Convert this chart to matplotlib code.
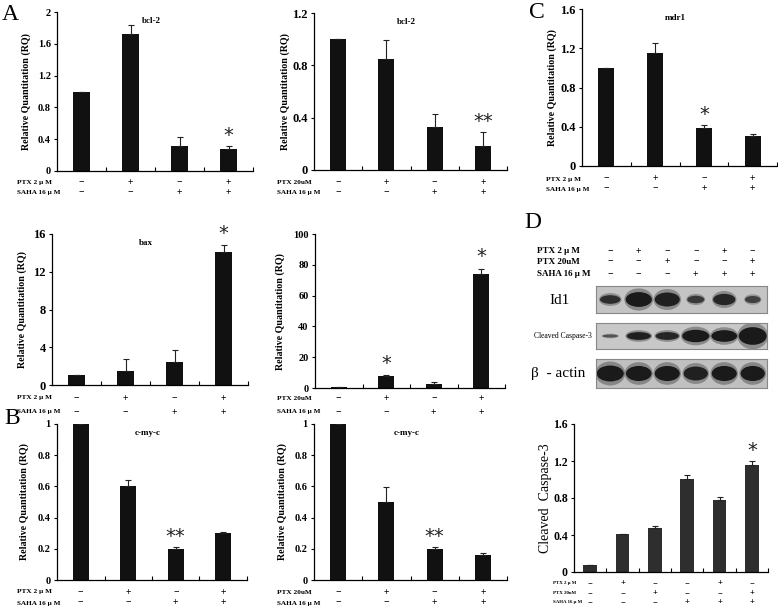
import matplotlib
matplotlib.use("Agg")
import matplotlib.pyplot as plt
from matplotlib.patches import Ellipse
import matplotlib.transforms as mtransforms

W, H = 778, 609
SERIF = ["Liberation Serif", "DejaVu Serif"]
plt.rcParams["font.family"] = SERIF
plt.rcParams["axes.linewidth"] = 0.9

# ---- data ----
bcl2_ptx2 = [0.99, 1.72, 0.32, 0.28]
bcl2_ptx2_err = [0.0, 0.12, 0.11, 0.04]
bcl2_ptx20 = [1.0, 0.845, 0.33, 0.18]
bcl2_ptx20_err = [0.0, 0.15, 0.10, 0.11]
mdr1 = [1.0, 1.155, 0.385, 0.305]
mdr1_err = [0.0, 0.10, 0.03, 0.02]
bax_ptx2 = [1.02, 1.52, 2.4, 14.05]
bax_ptx2_err = [0.0, 1.2, 1.35, 0.8]
bax_ptx20 = [0.4, 8.0, 2.5, 74.0]
bax_ptx20_err = [0.0, 0.5, 1.2, 3.5]
myc_ptx2 = [1.0, 0.60, 0.197, 0.30]
myc_ptx2_err = [0.0, 0.038, 0.017, 0.01]
myc_ptx20 = [1.0, 0.498, 0.199, 0.16]
myc_ptx20_err = [0.0, 0.10, 0.011, 0.011]
casp3 = [0.08, 0.41, 0.48, 1.01, 0.78, 1.16]
casp3_err = [0.0, 0.005, 0.02, 0.04, 0.03, 0.04]

ptx_row = ["−", "+", "−", "+"]
saha_row = ["−", "−", "+", "+"]
d_ptx2 = ["−", "+", "−", "−", "+", "−"]
d_ptx20 = ["−", "−", "+", "−", "−", "+"]
d_saha = ["−", "−", "−", "+", "+", "+"]

# blot bands per lane: (width, thickness, darkness)
id1_w = [0.72, 0.92, 0.88, 0.6, 0.78, 0.55]
id1_h = [0.32, 0.55, 0.52, 0.28, 0.42, 0.26]
id1_d = [0.85, 1.0, 0.95, 0.75, 0.9, 0.7]
casp_w = [0.55, 0.85, 0.82, 0.95, 0.9, 0.98]
casp_h = [0.12, 0.3, 0.3, 0.48, 0.45, 0.68]
casp_d = [0.55, 0.95, 0.9, 1.0, 1.0, 1.0]
actin_w = [0.95, 0.9, 0.88, 0.85, 0.88, 0.85]
actin_h = [0.55, 0.52, 0.52, 0.48, 0.52, 0.52]
actin_d = [1.0, 1.0, 1.0, 0.95, 1.0, 1.0]

fig = plt.figure(figsize=(W / 100, H / 100), dpi=100)
stars_txt = {}


def px_axes(x0, y0, x1, y1):
    return fig.add_axes([x0 / W, 1 - y1 / H, (x1 - x0) / W, (y1 - y0) / H])


def ftext(x, y, s, **kw):
    return fig.text(x / W, 1 - y / H, s, **kw)


def star(i, y, s="*"):
    stars_txt[(i, y)] = s
    return (i, y)


def bar_panel(box, vals, errs, ymax, yticks, ylabels, title, stars, rows,
              row_names, row_x, row_y, color="#111111", width=0.33,
              ylabel="Relative Quantitation (RQ)", ylab_x=None, ylab_kw=None,
              tick_fs=7.5, name_fs=5.2, sign_fs=7):
    x0, y0, x1, y1 = box
    ax = px_axes(x0, y0, x1, y1)
    n = len(vals)
    xs = [i + 0.5 for i in range(n)]
    ax.bar(xs, vals, width=width, color=color, zorder=2)
    ax.errorbar(xs, vals, yerr=[[0] * n, errs], fmt="none", ecolor="#222",
                elinewidth=0.8, capsize=2.5, capthick=0.8, zorder=3)
    ax.set_xlim(0, n)
    ax.set_ylim(0, ymax)
    for s in ("top", "right"):
        ax.spines[s].set_visible(False)
    ax.set_xticks(range(1, n + 1))
    ax.set_xticklabels([])
    ax.tick_params(axis="x", direction="in", length=3, width=0.8)
    ax.set_yticks(yticks)
    ax.set_yticklabels(ylabels, fontsize=tick_fs, fontweight="bold")
    ax.tick_params(axis="y", direction="out", length=2.5, width=0.8, pad=2)
    if title:
        ax.text(0.48, 0.97, title, transform=ax.transAxes, ha="center",
                va="top", fontsize=6.5, fontweight="bold")
    for i, sy in stars:
        ax.text(xs[i], sy, stars_txt[(i, sy)], ha="center", va="bottom",
                fontsize=14, family="DejaVu Sans", color="#222")
    kw = ylab_kw if ylab_kw else dict(fontsize=7.2, fontweight="bold")
    ftext(ylab_x, (y0 + y1) / 2, ylabel, rotation=90, ha="center",
          va="center", **kw)
    # treatment table under the axis
    tr = mtransforms.blended_transform_factory(ax.transData, fig.transFigure)
    for name, row, ry in zip(row_names, rows, row_y):
        ftext(row_x, ry, name, ha="left", va="center", fontsize=name_fs,
              fontweight="bold")
        for xi, s in zip(xs, row):
            ax.text(xi, 1 - ry / H, s, transform=tr, ha="center",
                    va="center", fontsize=sign_fs, fontweight="bold")
    return ax


# ---- panel A ----
ftext(10, 14, "A", fontsize=17, ha="center", va="center")
bar_panel((57, 12, 253, 171), bcl2_ptx2, bcl2_ptx2_err, 2.0,
          [0, 0.4, 0.8, 1.2, 1.6, 2.0], ["0", "0.4", "0.8", "1.2", "1.6", "2"],
          "bcl-2", [star(3, 0.33)], [ptx_row, saha_row],
          ["PTX 2 μ M", "SAHA 16 μ M"], 17, [182, 193], ylab_x=26)

bar_panel((314, 13, 507, 170), bcl2_ptx20, bcl2_ptx20_err, 1.2,
          [0, 0.4, 0.8, 1.2], ["0", "0.4", "0.8", "1.2"],
          "bcl-2", [star(3, 0.30, "**")], [ptx_row, saha_row],
          ["PTX 20uM", "SAHA 16 μ M"], 277, [182, 193], ylab_x=285,
          tick_fs=9)

bar_panel((52, 234, 248, 385), bax_ptx2, bax_ptx2_err, 16,
          [0, 4, 8, 12, 16], ["0", "4", "8", "12", "16"],
          "bax", [star(3, 15.0)], [ptx_row, saha_row],
          ["PTX 2 μ M", "SAHA 16 μ M"], 17, [398, 412], ylab_x=22, tick_fs=9)

bar_panel((315, 234, 505, 388), bax_ptx20, bax_ptx20_err, 100,
          [0, 20, 40, 60, 80, 100], ["0", "20", "40", "60", "80", "100"],
          None, [star(1, 9.5), star(3, 79.0)], [ptx_row, saha_row],
          ["PTX 20uM", "SAHA 16 μ M"], 277, [398, 412], ylab_x=280)

# ---- panel B ----
ftext(12, 418, "B", fontsize=17, ha="center", va="center")
bar_panel((57, 424, 247, 580), myc_ptx2, myc_ptx2_err, 1.0,
          [0, 0.2, 0.4, 0.6, 0.8, 1.0], ["0", "0.2", "0.4", "0.6", "0.8", "1"],
          "c-my-c", [star(2, 0.215, "**")], [ptx_row, saha_row],
          ["PTX 2 μ M", "SAHA 16 μ M"], 17, [592, 603], ylab_x=24)

bar_panel((314, 424, 507, 580), myc_ptx20, myc_ptx20_err, 1.0,
          [0, 0.2, 0.4, 0.6, 0.8, 1.0], ["0", "0.2", "0.4", "0.6", "0.8", "1"],
          "c-my-c", [star(2, 0.215, "**")], [ptx_row, saha_row],
          ["PTX 20uM", "SAHA 16 μ M"], 277, [592, 603], ylab_x=282)

# ---- panel C ----
ftext(537, 12, "C", fontsize=17, ha="center", va="center")
bar_panel((582, 9, 777, 166), mdr1, mdr1_err, 1.6,
          [0, 0.4, 0.8, 1.2, 1.6], ["0", "0.4", "0.8", "1.2", "1.6"],
          "mdr1", [star(2, 0.43)], [ptx_row, saha_row],
          ["PTX 2 μ M", "SAHA 16 μ M"], 546, [179, 189], ylab_x=552,
          tick_fs=9)

# ---- panel D: blots ----
ftext(533, 222, "D", fontsize=17, ha="center", va="center")
lane_x = [i + 0.5 for i in range(6)]
blot_x0, blot_x1 = 596, 767
for name, row, ry in zip(["PTX 2 μ M", "PTX 20uM", "SAHA 16 μ M"],
                         [d_ptx2, d_ptx20, d_saha], [251, 262, 274]):
    ftext(537, ry, name, ha="left", va="center", fontsize=6.5,
          fontweight="bold")
    for i, s in enumerate(row):
        ftext(blot_x0 + lane_x[i] * (blot_x1 - blot_x0) / 6, ry, s,
              ha="center", va="center", fontsize=7, fontweight="bold")


def blot(y0, y1, widths, heights, dark, bg):
    ax = px_axes(blot_x0, y0, blot_x1, y1)
    ax.set_xlim(0, 6)
    ax.set_ylim(0, 1)
    ax.set_facecolor(bg)
    ax.set_xticks([])
    ax.set_yticks([])
    for s in ax.spines.values():
        s.set_color("#888")
        s.set_linewidth(0.8)
    for x, w, h, d in zip(lane_x, widths, heights, dark):
        g = 0.1 + (1 - d) * 0.5
        ax.add_patch(Ellipse((x, 0.5), w * 1.1, h * 1.5, color=(g, g, g),
                             alpha=0.35, lw=0))
        ax.add_patch(Ellipse((x, 0.5), w, h, color=(g, g, g), lw=0))
    return ax


blot(286, 313, id1_w, id1_h, id1_d, "#c4c4c4")
ftext(560, 300, "Id1", fontsize=11, ha="center", va="center")
blot(323, 349, casp_w, casp_h, casp_d, "#c8c8c8")
ftext(563, 336, "Cleaved Caspase-3", fontsize=5.5, ha="center",
      va="center")
blot(359, 388, actin_w, actin_h, actin_d, "#c0c0c0")
ftext(531, 373, "β  - actin", fontsize=11, ha="left", va="center")

# ---- panel D: quantification ----
bar_panel((574, 424, 768, 572), casp3, casp3_err, 1.6,
          [0, 0.4, 0.8, 1.2, 1.6], ["0", "0.4", "0.8", "1.2", "1.6"],
          None, [star(5, 1.21)], [d_ptx2, d_ptx20, d_saha],
          ["PTX 2 μ M", "PTX 20uM", "SAHA 16 μ M"], 553, [583, 593, 602],
          color="#2e2e2e", width=0.42, ylabel="Cleaved  Caspase-3",
          ylab_x=545, ylab_kw=dict(fontsize=10), tick_fs=8.5,
          name_fs=3.5, sign_fs=6)

fig.savefig("out.png", dpi=100)
